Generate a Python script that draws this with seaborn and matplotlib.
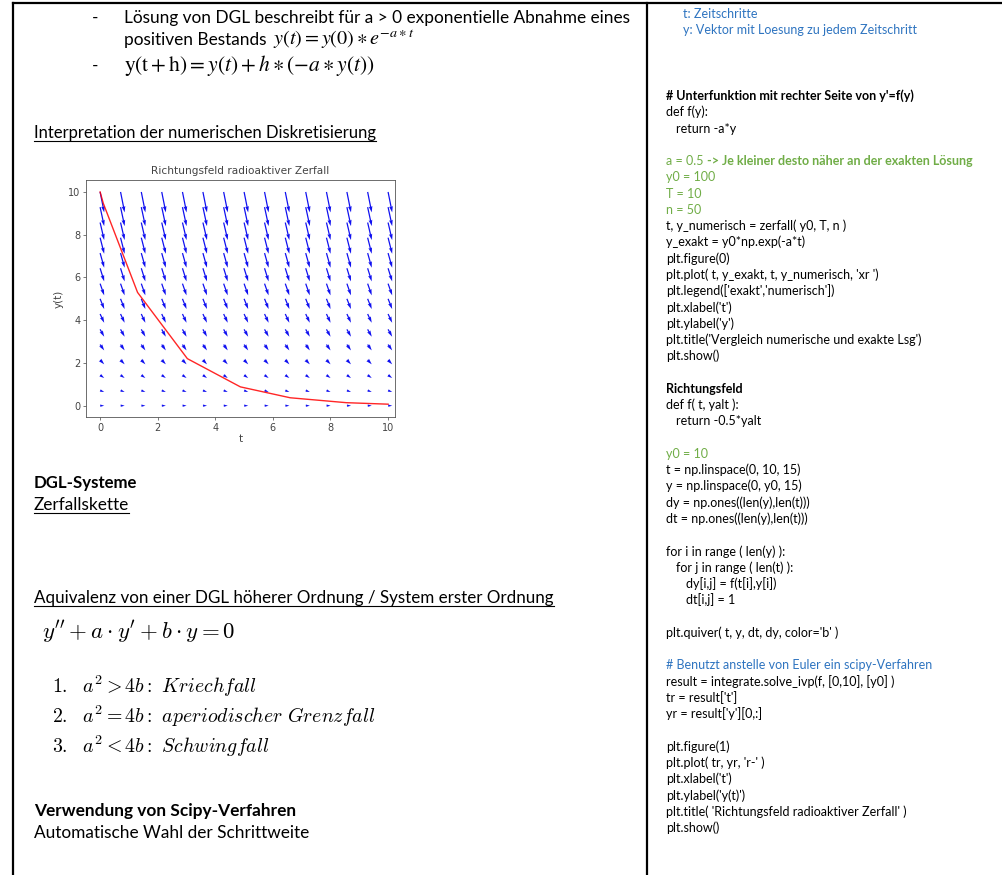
"""Lecture-notes page: text column, embedded direction-field plot, code column."""
import matplotlib
matplotlib.use("Agg")
import matplotlib.pyplot as plt
from matplotlib.lines import Line2D
import numpy as np
import pandas as pd
import seaborn as sns

W, H = 1002, 875
BODY_FONT = ["Lato", "DejaVu Sans"]
BLUE_TXT = "#2e74c0"
GREEN_TXT = "#70ad47"
BODY_SIZE = 12.4
CODE_SIZE = 9.0

# direction field grid (15 x 15), slope per row y' = -0.5*y
T_GRID = [0.0, 0.71, 1.43, 2.14, 2.86, 3.57, 4.29, 5.0, 5.71, 6.43, 7.14, 7.86, 8.57, 9.29, 10.0]
Y_GRID = [0.0, 0.71, 1.43, 2.14, 2.86, 3.57, 4.29, 5.0, 5.71, 6.43, 7.14, 7.86, 8.57, 9.29, 10.0]
DY_ROW = [0.0, -0.36, -0.71, -1.07, -1.43, -1.79, -2.14, -2.5, -2.86, -3.21, -3.57, -3.93, -4.29, -4.64, -5.0]

# solve_ivp result (red line)
TR = [0.0, 0.11, 1.3, 3.03, 4.87, 6.6, 8.55, 10.0]
YR = [10.0, 9.47, 5.3, 2.2, 0.88, 0.37, 0.14, 0.07]

# right column: (text, style) per line, None = empty line
CODE_LINES = [
    ("# Unterfunktion mit rechter Seite von y'=f(y)", "b"),
    ("def f(y):", "n"),
    ("  return -a*y", "n"),
    None,
    ("a = 0.5 |-> Je kleiner desto näher an der exakten Lösung", "g"),
    ("y0 = 100", "g"),
    ("T = 10", "g"),
    ("n = 50", "g"),
    ("t, y_numerisch = zerfall( y0, T, n )", "n"),
    ("y_exakt = y0*np.exp(-a*t)", "n"),
    ("plt.figure(0)", "n"),
    ("plt.plot( t, y_exakt, t, y_numerisch, 'xr ')", "n"),
    ("plt.legend(['exakt','numerisch'])", "n"),
    ("plt.xlabel('t')", "n"),
    ("plt.ylabel('y')", "n"),
    ("plt.title('Vergleich numerische und exakte Lsg')", "n"),
    ("plt.show()", "n"),
    None,
    ("Richtungsfeld", "b"),
    ("def f( t, yalt ):", "n"),
    ("  return -0.5*yalt", "n"),
    None,
    ("y0 = 10", "g"),
    ("t = np.linspace(0, 10, 15)", "n"),
    ("y = np.linspace(0, y0, 15)", "n"),
    ("dy = np.ones((len(y),len(t)))", "n"),
    ("dt = np.ones((len(y),len(t)))", "n"),
    None,
    ("for i in range ( len(y) ):", "n"),
    ("  for j in range ( len(t) ):", "n"),
    ("    dy[i,j] = f(t[i],y[i])", "n"),
    ("    dt[i,j] = 1", "n"),
    None,
    ("plt.quiver( t, y, dt, dy, color='b' )", "n"),
    None,
    ("# Benutzt anstelle von Euler ein scipy-Verfahren", "bl"),
    ("result = integrate.solve_ivp(f, [0,10], [y0] )", "n"),
    ("tr = result['t']", "n"),
    ("yr = result['y'][0,:]", "n"),
    None,
    ("plt.figure(1)", "n"),
    ("plt.plot( tr, yr, 'r-' )", "n"),
    ("plt.xlabel('t')", "n"),
    ("plt.ylabel('y(t)')", "n"),
    ("plt.title( 'Richtungsfeld radioaktiver Zerfall' )", "n"),
    ("plt.show()", "n"),
]

fig = plt.figure(figsize=(W / 100, H / 100), dpi=100, facecolor="white")


def fx(x):
    return x / W


def fy(y):
    return 1 - y / H


def put(x, y, s, size=BODY_SIZE, **kw):
    kw.setdefault("family", BODY_FONT)
    return fig.text(fx(x), fy(y), s, fontsize=size, va="baseline", ha="left", **kw)


# page borders
for xs, ys in [((13, W), (3, 3)), ((13, 13), (3, H)), ((647, 647), (3, H))]:
    fig.add_artist(Line2D([fx(v) for v in xs], [fy(v) for v in ys],
                          transform=fig.transFigure, color="black", lw=1.6))

# ---- left column text
put(92, 23, "-")
put(124, 23, "Lösung von DGL beschreibt für a > 0 exponentielle Abnahme eines")
put(124, 45, "positiven Bestands")
put(273, 45, r"$y(t) = y(0) \ast e^{-a\ast t}$", math_fontfamily="stix", size=14.5)
put(92, 71, "-")
put(124, 71, r"$\mathrm{y(t+h)} = y(t) + h \ast \left(-a \ast y(t)\right)$",
    math_fontfamily="stix", size=15.5)
underlined = []
underlined.append((put(34, 138, "Interpretation der numerischen Diskretisierung", size=12.0), 138))
put(34, 488, "DGL-Systeme", weight="bold", size=12.1)
underlined.append((put(34, 510, "Zerfallskette"), 510))
underlined.append((put(34, 603, "Aquivalenz von einer DGL höherer Ordnung / System erster Ordnung",
                       size=12.25), 603))
put(42, 639, r"$y'' + a \cdot y' + b \cdot y = 0$", math_fontfamily="cm", size=16.5)
cases = [r"$\mathrm{1.}\ \ a^2 > 4b\mathrm{:}\ \mathit{Kriechfall}$",
         r"$\mathrm{2.}\ \ a^2 = 4b\mathrm{:}\ \mathit{aperiodischer\ Grenzfall}$",
         r"$\mathrm{3.}\ \ a^2 < 4b\mathrm{:}\ \mathit{Schwingfall}$"]
for i, s in enumerate(cases):
    put(52, 693 + 30 * i, s, math_fontfamily="cm", size=14.3)
put(34, 816, "Verwendung von Scipy-Verfahren", weight="bold")
put(34, 838, "Automatische Wahl der Schrittweite")

# ---- right column code
put(683, 18, "t: Zeitschritte", size=CODE_SIZE, color=BLUE_TXT)
put(683, 34, "y: Vektor mit Loesung zu jedem Zeitschritt", size=CODE_SIZE, color=BLUE_TXT)
split_parts = []
for i, line in enumerate(CODE_LINES):
    if line is None:
        continue
    text, style = line
    yb = 100 + 16.27 * i
    indent = len(text) - len(text.lstrip(" "))
    x = 666 + 5 * indent
    text = text.lstrip(" ")
    color = {"g": GREEN_TXT, "bl": BLUE_TXT}.get(style, "black")
    weight = "bold" if style == "b" else "normal"
    if "|" in text:
        a, b = text.split("|")
        t1 = put(x, yb, a, size=CODE_SIZE, color=color)
        split_parts.append((t1, yb, b, color))
    else:
        put(x, yb, text, size=CODE_SIZE, color=color, weight=weight)

# ---- embedded direction-field plot
ax = fig.add_axes([fx(86), fy(417), fx(395 - 86), (417 - 180) / H])
tt, yy = np.meshgrid(T_GRID, Y_GRID)
dt = np.ones_like(tt)
dy = np.repeat(np.array(DY_ROW)[:, None], len(T_GRID), axis=1)
ax.quiver(tt, yy, dt, dy, color="#1010f0")
df = pd.DataFrame({"t": TR, "y": YR})
sns.lineplot(data=df, x="t", y="y", ax=ax, color="red", lw=1.0, alpha=0.85)
ax.set_xlim(-0.49, 10.24)
ax.set_ylim(-0.53, 10.56)
ax.set_xticks([0, 2, 4, 6, 8, 10])
ax.set_yticks([0, 2, 4, 6, 8, 10])
txtc = "#444444"
ax.tick_params(labelsize=7, length=2, width=0.5, colors=txtc, pad=2)
for sp in ax.spines.values():
    sp.set_linewidth(0.6)
    sp.set_color("#555555")
ax.set_xlabel("t", fontsize=7.5, color=txtc, labelpad=1)
ax.set_ylabel("y(t)", fontsize=7.5, color=txtc, labelpad=3)
ax.set_title("Richtungsfeld radioaktiver Zerfall", fontsize=7.6, color=txtc, pad=4)

# underlines and continued text need the renderer
fig.canvas.draw()
r = fig.canvas.get_renderer()
for t, yb in underlined:
    bb = t.get_window_extent(r)
    fig.add_artist(Line2D([bb.x0 / W, bb.x1 / W], [fy(yb + 2.5)] * 2,
                          transform=fig.transFigure, color="black", lw=0.8))
for t1, yb, rest, color in split_parts:
    bb = t1.get_window_extent(r)
    fig.text(bb.x1 / W, fy(yb), rest, fontsize=CODE_SIZE, va="baseline", family=BODY_FONT,
             color=color, weight="bold")

fig.savefig("out.png", dpi=100, facecolor="white")
